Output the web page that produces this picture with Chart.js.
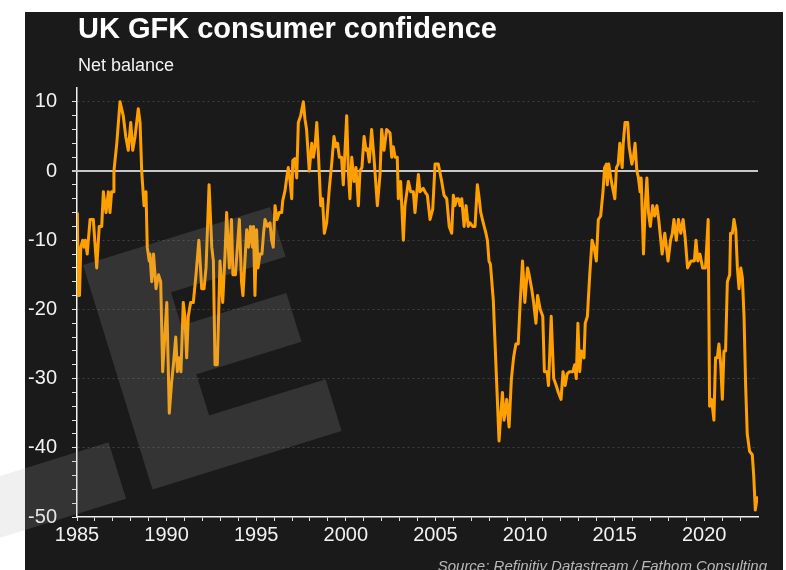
<!DOCTYPE html>
<html>
<head>
<meta charset="utf-8">
<title>UK GFK consumer confidence</title>
<script src="https://cdn.jsdelivr.net/npm/chart.js@4"></script>
<style>
  html, body { margin: 0; padding: 0; background: #fff; overflow: hidden; }
  #wrap { position: relative; width: 786px; height: 570px; }
  #chart { position: absolute; left: 0; top: 0; }
  .txt { position: absolute; white-space: nowrap; font-family: 'Liberation Sans', Arial, sans-serif; }
  .title { left: 78px; top: 14px; font-size: 29px; line-height: 29px; font-weight: bold; color: #fff; }
  .sub { left: 78px; top: 56px; font-size: 18px; line-height: 18px; color: #f2f2f2; }
  .source { right: 19px; top: 558px; font-size: 15px; line-height: 15px; font-style: italic; color: #b8b8b8; }
</style>
</head>
<body>
<div id="wrap">
  <canvas id="chart" width="786" height="570"></canvas>
  <div class="txt title">UK GFK consumer confidence</div>
  <div class="txt sub">Net balance</div>
  <div class="txt source">Source: Refinitiv Datastream / Fathom Consulting</div>
</div>
<script>
// readings: decimal year, net balance
const dates = [
  1985.02, 1985.07, 1985.14, 1985.21, 1985.32, 1985.39, 1985.47, 1985.57, 1985.73, 1985.91,
  1986.10, 1986.24, 1986.38, 1986.47, 1986.62, 1986.75, 1986.84, 1986.93, 1987.01, 1987.06,
  1987.22, 1987.40, 1987.58, 1987.72, 1987.86, 1988.00, 1988.11, 1988.24, 1988.42, 1988.52,
  1988.61, 1988.74, 1988.85, 1988.92, 1989.03, 1989.07, 1989.17, 1989.27, 1989.41, 1989.55,
  1989.67, 1989.78, 1990.01, 1990.15, 1990.28, 1990.38, 1990.51, 1990.60, 1990.69, 1990.80,
  1990.93, 1991.02, 1991.12, 1991.21, 1991.34, 1991.49, 1991.64, 1991.80, 1991.96, 1992.09,
  1992.20, 1992.37, 1992.52, 1992.61, 1992.70, 1992.83, 1992.98, 1993.13, 1993.26, 1993.35,
  1993.50, 1993.62, 1993.70, 1993.84, 1994.06, 1994.18, 1994.26, 1994.47, 1994.57, 1994.68,
  1994.79, 1994.85, 1994.93, 1995.02, 1995.10, 1995.21, 1995.32, 1995.41, 1995.49, 1995.63,
  1995.77, 1995.86, 1995.95, 1996.05, 1996.16, 1996.29, 1996.42, 1996.48, 1996.61, 1996.70,
  1996.79, 1996.89, 1996.98, 1997.04, 1997.16, 1997.26, 1997.35, 1997.48, 1997.63, 1997.72,
  1997.81, 1997.96, 1998.10, 1998.19, 1998.28, 1998.38, 1998.48, 1998.60, 1998.70, 1998.80,
  1998.93, 1999.08, 1999.21, 1999.34, 1999.45, 1999.54, 1999.64, 1999.76, 1999.86, 2000.05,
  2000.14, 2000.23, 2000.33, 2000.46, 2000.57, 2000.70, 2000.79, 2000.90, 2001.02, 2001.13,
  2001.21, 2001.31, 2001.44, 2001.57, 2001.76, 2001.91, 2002.00, 2002.13, 2002.28, 2002.47,
  2002.56, 2002.65, 2002.75, 2002.87, 2002.93, 2003.06, 2003.21, 2003.30, 2003.49, 2003.62,
  2003.77, 2003.86, 2004.05, 2004.14, 2004.32, 2004.42, 2004.55, 2004.70, 2004.85, 2004.98,
  2005.16, 2005.35, 2005.48, 2005.63, 2005.77, 2005.91, 2006.00, 2006.09, 2006.19, 2006.28,
  2006.37, 2006.47, 2006.60, 2006.71, 2006.83, 2006.93, 2007.08, 2007.21, 2007.34, 2007.42,
  2007.53, 2007.67, 2007.82, 2007.90, 2007.99, 2008.07, 2008.23, 2008.36, 2008.55, 2008.64,
  2008.74, 2008.83, 2008.98, 2009.11, 2009.24, 2009.36, 2009.49, 2009.62, 2009.73, 2009.86,
  2009.99, 2010.14, 2010.23, 2010.37, 2010.48, 2010.61, 2010.70, 2010.85, 2010.99, 2011.08,
  2011.23, 2011.31, 2011.46, 2011.60, 2011.74, 2011.86, 2012.01, 2012.12, 2012.24, 2012.35,
  2012.48, 2012.67, 2012.77, 2012.86, 2012.95, 2013.05, 2013.14, 2013.29, 2013.36, 2013.48,
  2013.61, 2013.74, 2013.85, 2013.98, 2014.09, 2014.22, 2014.35, 2014.44, 2014.54, 2014.59,
  2014.67, 2014.82, 2015.01, 2015.10, 2015.20, 2015.29, 2015.42, 2015.48, 2015.58, 2015.73,
  2015.81, 2015.96, 2016.05, 2016.14, 2016.24, 2016.33, 2016.42, 2016.48, 2016.61, 2016.71,
  2016.80, 2016.89, 2016.99, 2017.12, 2017.23, 2017.36, 2017.46, 2017.65, 2017.80, 2017.98,
  2018.12, 2018.22, 2018.31, 2018.44, 2018.56, 2018.69, 2018.82, 2018.93, 2019.07, 2019.26,
  2019.45, 2019.54, 2019.64, 2019.76, 2019.91, 2020.07, 2020.22, 2020.30, 2020.41, 2020.54,
  2020.63, 2020.73, 2020.82, 2020.92, 2021.01, 2021.10, 2021.19, 2021.29, 2021.42, 2021.47,
  2021.57, 2021.66, 2021.76, 2021.85, 2021.94, 2022.04, 2022.13, 2022.22, 2022.31, 2022.40,
  2022.53, 2022.68, 2022.76, 2022.85, 2022.96
];
const confidence = [
  -6, -18, -18, -11, -10, -11, -10, -12, -7, -7,
  -14, -8, -8, -3, -6, -3, -6, -3, -3, 0,
  4, 10, 8, 5, 3, 7, 3, 5, 9, 7,
  0, -5, -3, -11, -13, -12, -16, -12, -17, -15,
  -16, -29, -19, -35, -30.5, -28, -24, -29, -27, -29,
  -19, -21, -27, -21, -19, -19, -15, -10, -17, -17,
  -14, -2, -11, -13, -28, -28, -13, -19, -12, -6,
  -14, -7, -15, -15, -7, -16, -18, -8.5, -11, -8,
  -11, -8, -18, -8.5, -14, -12, -12, -9, -7, -8,
  -7.5, -10, -11, -5, -7, -6, -6, -4.3, -2.8, -1,
  0.5, -1.5, -4, 1.5, 1.8, -1, 7, 8, 10, 7.5,
  6, 0, 4, 2, 3.5, 7, 2, -5, -4, -9,
  -7.5, -2.5, 1, 5, 3.5, 4, 2, 2, -2, 8,
  0, -4, 2, -1.5, 0.5, -5, 0, 0.5, 5, 3,
  3.2, 1.3, 6, 2, -5, -0.5, 6, 3, 6, 5.5,
  2, 3.5, 2, 2, -4, -1.5, -10, -5, -1.5, -3,
  -3, -6, -0.5, -3, -2.5, -3, -3.5, -7, -5.5, 1,
  1, -1.5, -3.5, -4, -8, -9, -3.5, -5, -4, -4,
  -5, -4, -8, -5, -8, -7.5, -8, -8, -2, -3.5,
  -6, -7.5, -9, -10, -13, -13.5, -18.7, -27, -39, -35.5,
  -32, -36, -33, -37, -30, -27, -25, -25, -19, -13,
  -19, -14, -15, -17, -19, -22, -18, -20, -21, -29,
  -29, -31, -21, -30, -31, -32, -33, -29, -31, -29.3,
  -29, -29, -28, -30, -22, -29, -26, -27, -22, -21,
  -15, -10, -11, -13, -7, -6.5, -3, 0.5, 1, -2,
  1, -1.5, -4, 0.5, 1, 4, 0.5, 4, 7, 7,
  3.5, 1, 2, 4, 0, -1, -3, -1, -12, -5,
  -1, -6, -8, -5, -6.5, -5, -7, -12, -9, -13,
  -10, -9, -7, -10, -7, -9, -7, -9.5, -14, -13,
  -13, -10, -13, -12, -14, -14, -7, -34, -33, -36,
  -27, -27, -25, -28, -33, -26, -26, -16, -15, -9,
  -9, -7, -8.5, -14, -17, -14, -15.5, -21, -31, -38,
  -40.5, -41, -44, -49, -47
];
const yearTicks = [1985, 1990, 1995, 2000, 2005, 2010, 2015, 2020];
const valueTicks = [10, 0, -10, -20, -30, -40, -50];

const panel = {
  id: 'panel',
  beforeDraw(chart) {
    const ctx = chart.ctx;
    ctx.save();
    ctx.fillStyle = '#fff';
    ctx.fillRect(0, 0, chart.width, chart.height);
    ctx.fillStyle = '#1a1a1a';
    ctx.fillRect(25, 12, 758, chart.height - 12);
    ctx.restore();
  }
};

// solid line at zero
const zeroLine = {
  id: 'zeroLine',
  beforeDatasetsDraw(chart) {
    const {ctx, chartArea, scales} = chart;
    const y = scales.y.getPixelForValue(0);
    ctx.save();
    ctx.strokeStyle = '#c8c8c8';
    ctx.lineWidth = 2;
    ctx.beginPath();
    ctx.moveTo(chartArea.left - 5, y);
    ctx.lineTo(chartArea.right, y);
    ctx.stroke();
    ctx.restore();
  }
};

// faint rotated "E" logo over the plot
const watermark = {
  id: 'watermark',
  afterDraw(chart) {
    const ctx = chart.ctx;
    ctx.save();
    ctx.translate(83, 265);
    ctx.rotate(-17.2 * Math.PI / 180);
    ctx.beginPath();
    ctx.rect(0, 0, 76, 235);
    ctx.rect(0, 0, 196, 52);
    ctx.rect(0, 87, 186, 51);
    ctx.rect(0, 181, 198, 54);
    ctx.rect(-330, 177, 302, 59);
    ctx.fillStyle = 'rgba(170,170,170,0.18)';
    ctx.fill();
    ctx.restore();
  }
};

const labelFont = { family: "'Liberation Sans', Arial, sans-serif", size: 20 };

new Chart(document.getElementById('chart'), {
  type: 'line',
  data: {
    datasets: [{
      label: 'Consumer confidence',
      data: dates.map((d, i) => ({ x: d, y: confidence[i] })),
      borderColor: '#ffa000',
      borderWidth: 3,
      borderJoinStyle: 'round',
      pointRadius: 0,
      tension: 0
    }]
  },
  options: {
    responsive: false,
    animation: false,
    layout: { padding: { left: 25, top: 88, right: 28, bottom: 0 } },
    plugins: {
      legend: { display: false },
      tooltip: { enabled: false }
    },
    scales: {
      x: {
        type: 'linear',
        min: 1985,
        max: 2023,
        afterFit: s => { s.height = 53; },
        border: { color: '#f0f0f0', width: 1.5 },
        grid: {
          drawOnChartArea: false,
          tickLength: 4,
          tickColor: c => c.tick && c.tick.value === 2023 ? 'transparent' : '#e0e0e0'
        },
        ticks: {
          stepSize: 1,
          autoSkip: false,
          maxRotation: 0,
          padding: 2,
          color: '#f2f2f2',
          font: labelFont,
          callback: v => yearTicks.includes(v) ? String(v) : ''
        }
      },
      y: {
        min: -50,
        max: 12,
        afterFit: s => { s.width = 52; },
        border: { color: '#f0f0f0', width: 1.5, dash: [2, 3] },
        grid: {
          tickLength: 5,
          color: c => {
            const v = c.tick && c.tick.value;
            return valueTicks.includes(v) && v !== 0 && v !== -50 ? '#3a403a' : 'transparent';
          },
          tickColor: c => c.tick && c.tick.value === 12 ? 'transparent' : '#e0e0e0'
        },
        ticks: {
          stepSize: 2,
          autoSkip: false,
          padding: 15,
          color: '#f2f2f2',
          font: labelFont,
          callback: v => valueTicks.includes(v) ? String(v) : ''
        }
      }
    }
  },
  plugins: [panel, zeroLine, watermark]
});
</script>
</body>
</html>
